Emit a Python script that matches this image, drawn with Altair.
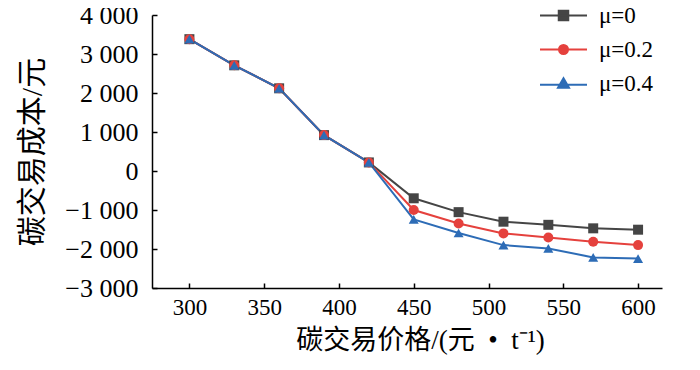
import altair as alt
import pandas as pd

price = [300, 330, 360, 390, 420, 450, 480, 510, 540, 570, 600]
mu_0 = [3380, 2710, 2120, 920, 220, -700, -1055, -1300, -1380, -1470, -1505]
mu_02 = [3380, 2710, 2120, 920, 220, -1000, -1345, -1600, -1705, -1815, -1900]
mu_04 = [3380, 2710, 2120, 920, 220, -1240, -1590, -1900, -1985, -2215, -2245]
series_names = ["μ=0", "μ=0.2", "μ=0.4"]
x_ticks = [300, 350, 400, 450, 500, 550, 600]
y_ticks = [-3000, -2000, -1000, 0, 1000, 2000, 3000, 4000]

colors = ["#454545", "#e5413d", "#2d6cb6"]
marker_shapes = ["square", "circle", "triangle-up"]
legend_paths = [
    "M-4.7,0H4.7M-0.95,-0.95H0.95V0.95H-0.95Z",
    "M-4.7,0H4.7M0.9,0A0.9,0.9,0,1,1,-0.9,0A0.9,0.9,0,1,1,0.9,0Z",
    "M-4.7,0.25H4.7M0,-1.05L1.1,0.85H-1.1Z",
]

rows = []
for name, vals in zip(series_names, [mu_0, mu_02, mu_04]):
    for p, v in zip(price, vals):
        rows.append({"price": p, "cost": v, "series": name})
df = pd.DataFrame(rows)

SERIF = "Liberation Serif"
CJK = "Liberation Serif, Noto Sans CJK SC"

W, H = 510, 273

xs = alt.Scale(domain=[275, 616], nice=False, zero=False)
ys = alt.Scale(domain=[-3000, 4000], nice=False, zero=False)
cs = alt.Scale(domain=series_names, range=colors)

base = alt.Chart(df)

# legend-only layer (no rows drawn), placed first so its legend settings win
leg = alt.Legend(
    title=None, orient="none", legendX=400, legendY=-11,
    labelFont=SERIF, labelFontSize=23, labelColor="black",
    labelOffset=24, symbolSize=100, symbolStrokeWidth=2, rowPadding=10,
)
legend_layer = base.transform_filter("datum.price < 0").mark_point(
    filled=True, opacity=1, strokeWidth=2, size=100
).encode(
    x=alt.X("price:Q", scale=xs, axis=None),
    y=alt.Y("cost:Q", scale=ys, axis=None),
    color=alt.Color("series:N", scale=cs, legend=leg),
    stroke=alt.Stroke("series:N", scale=cs, legend=leg),
    shape=alt.Shape("series:N", scale=alt.Scale(domain=series_names, range=legend_paths), legend=leg),
)

x_main = alt.X("price:Q", scale=xs, axis=alt.Axis(
    orient="bottom", values=x_ticks, ticks=False, tickSize=0, grid=False,
    domainColor="black", domainWidth=1.5, labelFont=SERIF, labelFontSize=23,
    labelColor="black", labelPadding=8, labelOverlap=False,
    title="碳交易价格/(元\u2002•\u2002t⁻¹)", titleFont=CJK, titleFontSize=27,
    titleFontWeight="normal", titleColor="black", titlePadding=8,
    titleX=268, titleAlign="center"))
y_main = alt.Y("cost:Q", scale=ys, axis=alt.Axis(
    orient="left", values=y_ticks, ticks=False, tickSize=0, grid=False,
    domainColor="black", domainWidth=1.5, labelFont=SERIF, labelFontSize=26,
    labelColor="black", labelPadding=14, labelOverlap=False,
    labelExpr="replace(format(datum.value, ','), ',', ' ')",
    title="碳交易成本/元", titleFont=CJK, titleFontSize=30,
    titleFontWeight="normal", titleColor="black", titlePadding=17))

lines = base.mark_line(strokeWidth=2).encode(
    x=x_main, y=y_main,
    color=alt.Color("series:N", scale=cs, legend=None),
)

# inward-pointing ticks: opposite-side axes shifted onto the plot edges
tick_layer = base.mark_line(opacity=0).encode(
    x=alt.X("price:Q", scale=xs, axis=alt.Axis(
        orient="top", offset=-H, values=x_ticks, labels=False, domain=False,
        ticks=True, tickSize=5, tickWidth=1.5, tickColor="black", grid=False, title=None)),
    y=alt.Y("cost:Q", scale=ys, axis=alt.Axis(
        orient="right", offset=-W, values=y_ticks, labels=False, domain=False,
        ticks=True, tickSize=5, tickWidth=1.5, tickColor="black", grid=False, title=None)),
    detail="series:N",
)

pt_layers = []
for name, shp in zip(series_names, marker_shapes):
    pt_layers.append(
        base.transform_filter(alt.datum.series == name)
        .mark_point(shape=shp, filled=True, opacity=1, size=100)
        .encode(
            x=alt.X("price:Q", scale=xs, axis=None),
            y=alt.Y("cost:Q", scale=ys, axis=None),
            color=alt.Color("series:N", scale=cs, legend=None),
        )
    )

chart = alt.layer(legend_layer, lines, tick_layer, *pt_layers).resolve_axis(
    x="independent", y="independent"
).properties(
    width=W, height=H,
    autosize=alt.AutoSizeParams(type="none"),
    padding={"left": 144, "top": 7, "right": 30, "bottom": 74},
).configure(background="white").configure_view(stroke=None)

chart.save("out.html", embed_options={"renderer": "svg", "actions": False})
